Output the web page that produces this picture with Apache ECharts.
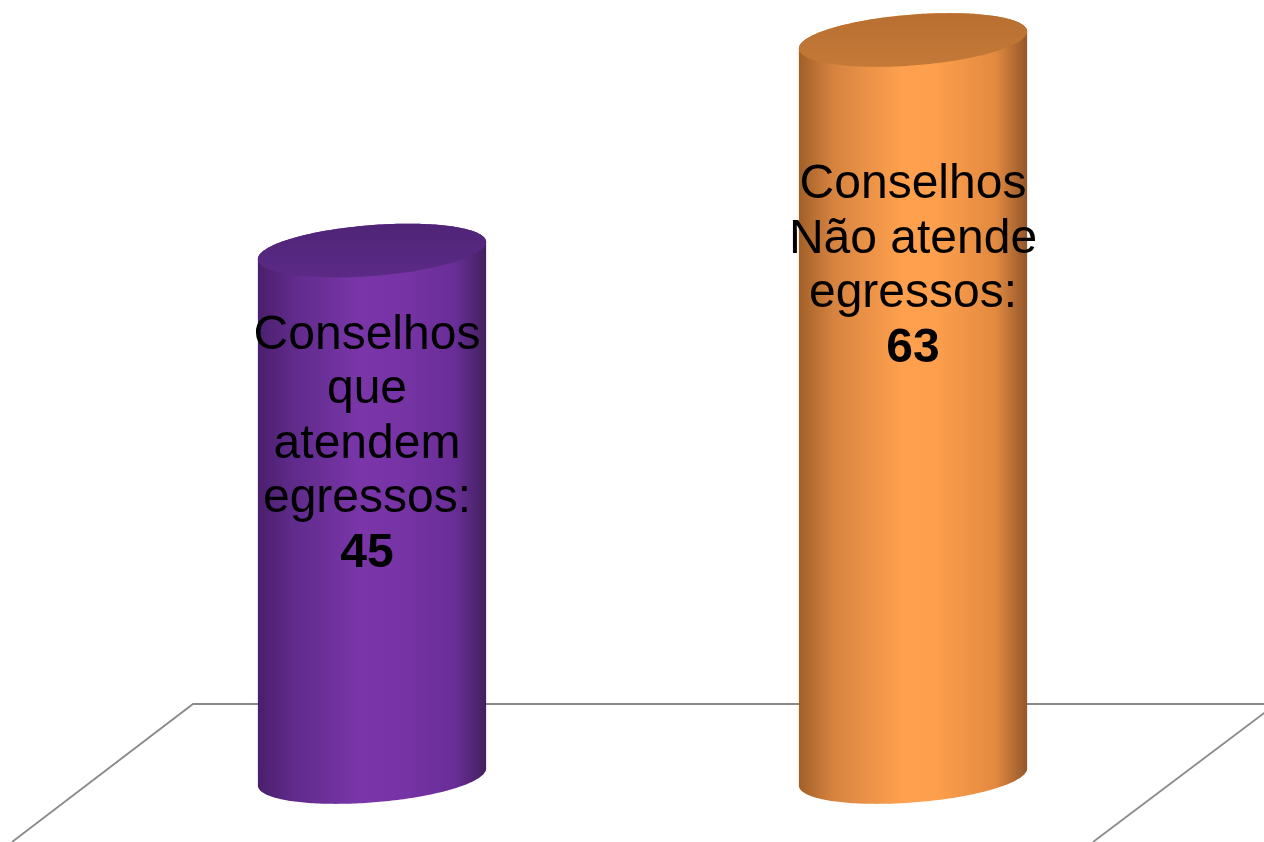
<!DOCTYPE html>
<html>
<head>
<meta charset="utf-8">
<style>
html,body{margin:0;padding:0;background:#fff;}
#chart{width:1264px;height:842px;}
</style>
<script src="https://cdn.jsdelivr.net/npm/echarts@6/dist/echarts.min.js"></script>
</head>
<body>
<div id="chart"></div>
<script>
// ---- data ----
const categories = ['Conselhos que atendem egressos', 'Conselhos Não atende egressos'];
const labelLines = [['Conselhos', 'que', 'atendem', 'egressos:'], ['Conselhos', 'Não atende', 'egressos:']];
const values = [45, 63];

// ---- styling ----
const palettes = [
  { body: ['#4a1f6c', '#5f2a8a', '#7a36a9', '#7834a6', '#6a2e98', '#42205e'], top: ['#4f2476', '#5b2a86'] },
  { body: ['#a25f27', '#d68340', '#fea04d', '#fd9f4c', '#e38a40', '#93572a'], top: ['#b86f31', '#c47937'] }
];
const labelOffsets = [194, 227];

const chart = echarts.init(document.getElementById('chart'), null, { renderer: 'canvas' });

function ellipsePts(cx, cy, a, b, phi, n) {
  const pts = [];
  for (let k = 0; k < n; k++) {
    const t = (k / n) * Math.PI * 2;
    pts.push([
      cx + a * Math.cos(t) * Math.cos(phi) - b * Math.sin(t) * Math.sin(phi),
      cy + a * Math.cos(t) * Math.sin(phi) + b * Math.sin(t) * Math.cos(phi)
    ]);
  }
  return pts;
}

function renderItem(params, api) {
  const i = api.value(0);
  const v = api.value(1);
  const topPt = api.coord([i, v]);
  const basePt = api.coord([i, 0]);
  const band = api.size([1, 0])[0];
  const a = band * 0.2116;
  const b = a * 0.222;
  const phi = -4.5 * Math.PI / 180;
  const n = 240;
  const cx = topPt[0];
  const topE = ellipsePts(cx, topPt[1], a, b, phi, n);
  const botE = ellipsePts(cx, basePt[1], a, b, phi, n);
  let iMin = 0, iMax = 0;
  for (let k = 0; k < n; k++) {
    if (topE[k][0] < topE[iMin][0]) iMin = k;
    if (topE[k][0] > topE[iMax][0]) iMax = k;
  }
  const body = [];
  let k = iMax;
  while (true) { body.push(botE[k]); if (k === iMin) break; k = (k + 1) % n; }
  k = iMin;
  while (true) { body.push(topE[k]); if (k === iMax) break; k = (k + 1) % n; }

  const pal = palettes[i % palettes.length];
  const bodyGrad = new echarts.graphic.LinearGradient(0, 0, 1, 0, [
    { offset: 0, color: pal.body[0] },
    { offset: 0.15, color: pal.body[1] },
    { offset: 0.45, color: pal.body[2] },
    { offset: 0.6, color: pal.body[3] },
    { offset: 0.86, color: pal.body[4] },
    { offset: 1, color: pal.body[5] }
  ]);
  const topGrad = new echarts.graphic.LinearGradient(0, 0, 0, 1, [
    { offset: 0, color: pal.top[0] },
    { offset: 1, color: pal.top[1] }
  ]);
  const lines = labelLines[i];
  const text = lines.join('\n') + '\n{b|' + v + '}';
  return {
    type: 'group',
    children: [
      { type: 'polygon', shape: { points: body }, style: { fill: bodyGrad } },
      { type: 'polygon', shape: { points: topE }, style: { fill: topGrad } },
      {
        type: 'text',
        style: {
          text: text,
          x: cx - 5 * (i === 0 ? 1 : 0),
          y: topPt[1] + labelOffsets[i],
          align: 'center',
          verticalAlign: 'middle',
          fontSize: 48,
          fontFamily: '"Liberation Sans", Arial, sans-serif',
          lineHeight: 54.5,
          fill: '#000',
          rich: {
            b: { fontSize: 48, fontWeight: 'bold', lineHeight: 54.5, fontFamily: '"Liberation Sans", Arial, sans-serif', fill: '#000' }
          }
        }
      }
    ]
  };
}

const option = {
  backgroundColor: '#ffffff',
  animation: false,
  grid: { left: 101.5, right: 80.5, top: 40, bottom: 65 },
  xAxis: { type: 'category', data: categories, show: false },
  yAxis: { type: 'value', min: 0, max: 63, show: false },
  graphic: [
    { type: 'polyline', z: 0, shape: { points: [[12, 842], [193, 704], [1300, 704]] }, style: { stroke: '#8a8a8a', lineWidth: 1.8, fill: null } },
    { type: 'line', z: 0, shape: { x1: 1093, y1: 842, x2: 1276, y2: 704 }, style: { stroke: '#8a8a8a', lineWidth: 1.8 } }
  ],
  series: [{
    type: 'custom',
    z: 5,
    renderItem: renderItem,
    data: values.map((v, i) => [i, v])
  }]
};
chart.setOption(option);
</script>
</body>
</html>
